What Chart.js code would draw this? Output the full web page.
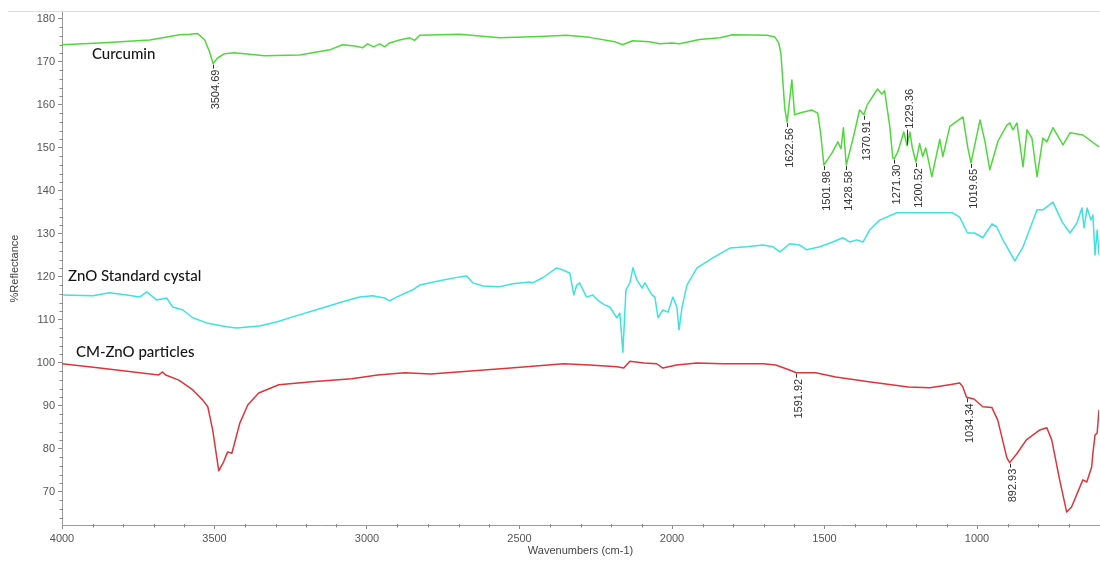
<!DOCTYPE html>
<html>
<head>
<meta charset="utf-8">
<title>FTIR spectra</title>
<script src="https://cdn.jsdelivr.net/npm/chart.js@4.4.1/dist/chart.umd.min.js"></script>
<style>
  html, body { margin: 0; padding: 0; background: #ffffff; }
  #wrap { width: 1100px; height: 563px; }
</style>
</head>
<body>
<div id="wrap"><canvas id="chart" width="1100" height="563"></canvas></div>
<script>
// Wavenumbers (cm-1) and % reflectance for each spectrum
const curcuminWn = [4000, 3876, 3712, 3614, 3581, 3555, 3532, 3516, 3504.69, 3490, 3467, 3435, 3336, 3221, 3122, 3080, 3040, 3014, 2998, 2978, 2958, 2942, 2926, 2893, 2860, 2844, 2827, 2696, 2565, 2434, 2346, 2270, 2188, 2162, 2129, 2074, 2041, 2001, 1975, 1910, 1843, 1801, 1689, 1663, 1650, 1643, 1637, 1630, 1622.56, 1607, 1598, 1581, 1542, 1522, 1512, 1501.98, 1476, 1456, 1446, 1438, 1428.58, 1407, 1385, 1370.91, 1360, 1326, 1312, 1303, 1286, 1276, 1271.30, 1260, 1240, 1229.36, 1220, 1212, 1200.52, 1188, 1178, 1168, 1148, 1122, 1112, 1089, 1046, 1030, 1019.65, 990, 974, 958, 931, 902, 892, 882, 869, 849, 836, 820, 803, 784, 771, 751, 718, 695, 653, 600];
const curcuminR = [174.0, 174.4, 175.1, 176.3, 176.4, 176.6, 175.1, 172.3, 169.6, 170.9, 171.9, 172.1, 171.4, 171.6, 172.8, 174.0, 173.7, 173.3, 174.2, 173.5, 174.2, 173.5, 174.4, 175.1, 175.6, 175.0, 176.2, 176.4, 175.6, 175.9, 176.2, 175.7, 174.7, 174.0, 174.9, 174.7, 174.2, 174.4, 174.2, 175.2, 175.6, 176.3, 176.2, 175.8, 174.4, 172.0, 166.0, 159.0, 156.0, 165.8, 157.7, 158.1, 158.8, 158.1, 153.0, 146.0, 148.8, 151.4, 149.8, 154.7, 146.0, 152.0, 158.8, 157.7, 160.0, 163.7, 162.5, 163.3, 155.0, 147.7, 147.5, 149.0, 153.7, 150.5, 153.7, 150.0, 146.7, 151.0, 148.0, 150.0, 143.3, 152.0, 148.0, 155.0, 157.2, 150.0, 146.5, 156.5, 151.5, 144.9, 151.6, 155.3, 155.8, 154.2, 155.8, 145.6, 154.2, 152.3, 143.3, 152.3, 151.4, 154.7, 150.7, 153.5, 153.0, 150.2];

const znoWn = [4000, 3899, 3844, 3788, 3745, 3722, 3689, 3657, 3637, 3604, 3571, 3526, 3460, 3428, 3352, 3297, 3244, 3155, 3080, 3024, 2982, 2942, 2926, 2903, 2850, 2827, 2762, 2696, 2673, 2653, 2620, 2565, 2522, 2467, 2457, 2424, 2378, 2358, 2335, 2322, 2312, 2303, 2280, 2260, 2244, 2221, 2204, 2181, 2171, 2161, 2151, 2138, 2128, 2115, 2098, 2089, 2066, 2056, 2046, 2030, 2013, 1997, 1984, 1977, 1967, 1951, 1918, 1866, 1810, 1755, 1702, 1669, 1646, 1614, 1581, 1558, 1515, 1473, 1440, 1417, 1394, 1374, 1352, 1319, 1263, 1211, 1155, 1080, 1057, 1031, 1008, 981, 951, 935, 915, 876, 849, 803, 784, 751, 721, 695, 672, 656, 649, 639, 626, 620, 613, 606, 600];
const znoR = [115.8, 115.6, 116.3, 115.8, 115.3, 116.5, 114.6, 115.1, 113.0, 112.3, 110.5, 109.3, 108.4, 108.1, 108.6, 109.5, 110.7, 112.6, 114.2, 115.3, 115.6, 115.1, 114.4, 115.3, 117.0, 118.1, 119.1, 120.0, 120.2, 118.6, 117.9, 117.7, 118.4, 118.8, 118.6, 119.8, 122.1, 121.6, 120.9, 115.8, 118.1, 118.6, 115.3, 115.8, 114.6, 113.5, 113.0, 110.5, 111.6, 102.5, 117.0, 118.6, 122.1, 119.3, 117.4, 118.6, 115.8, 115.3, 110.5, 112.3, 111.8, 115.3, 113.0, 107.7, 113.0, 118.1, 122.1, 124.4, 126.7, 127.0, 127.4, 127.0, 125.8, 127.7, 127.4, 126.3, 127.0, 128.1, 129.1, 128.1, 128.6, 128.1, 130.9, 133.2, 134.9, 134.9, 134.9, 134.9, 133.9, 130.2, 130.2, 129.1, 132.3, 131.6, 128.6, 123.7, 127.0, 135.6, 135.6, 137.4, 132.8, 130.2, 132.6, 136.0, 131.4, 136.0, 133.2, 134.4, 125.1, 130.9, 125.1];

const cmznoWn = [4000, 3876, 3745, 3683, 3670, 3660, 3617, 3571, 3539, 3522, 3506, 3486, 3470, 3457, 3443, 3417, 3391, 3355, 3289, 3181, 3050, 2965, 2876, 2791, 2703, 2529, 2355, 2270, 2181, 2158, 2138, 2092, 2050, 2030, 1985, 1919, 1834, 1702, 1660, 1617, 1591.92, 1529, 1463, 1355, 1225, 1155, 1090, 1057, 1047, 1034.34, 1010, 981, 951, 932, 902, 892.93, 870, 838, 794, 771, 755, 729, 706, 690, 653, 640, 624, 620, 613, 606, 600];
const cmznoR = [99.8, 98.8, 97.7, 97.2, 97.9, 97.2, 96.0, 93.7, 91.4, 89.8, 84.4, 74.9, 77.0, 79.3, 79.0, 86.0, 90.2, 93.0, 94.9, 95.6, 96.3, 97.2, 97.7, 97.4, 97.9, 98.8, 99.8, 99.5, 99.1, 98.8, 100.4, 100.0, 99.8, 98.8, 99.5, 100.0, 99.8, 99.8, 99.5, 98.4, 97.7, 97.7, 96.7, 95.6, 94.4, 94.2, 94.9, 95.3, 94.5, 92.0, 91.6, 89.8, 89.6, 86.7, 77.9, 76.8, 78.8, 82.1, 84.4, 84.9, 82.1, 72.8, 65.3, 66.5, 72.8, 72.3, 75.8, 79.0, 83.2, 83.7, 89.1];

// Annotated band positions (cm-1)
const curcuminPeaks = [3504.69, 1622.56, 1501.98, 1428.58, 1370.91, 1271.30, 1229.36, 1200.52, 1019.65];
const cmznoPeaks = [1591.92, 1034.34, 892.93];
const peaksLabelledAbove = [1229.36];

// Axis tick labels
const xTickLabels = [4000, 3500, 3000, 2500, 2000, 1500, 1000];
const yTickLabels = [70, 80, 90, 100, 110, 120, 130, 140, 150, 160, 170, 180];

// Series names, written next to each trace
const seriesNames = ['Curcumin', 'ZnO Standard cystal', 'CM-ZnO particles'];
const seriesNameAt = [[3902, 170.7], [3980, 119.1], [3954, 101.4]];

const toPoints = (wn, r) => wn.map((w, i) => ({ x: w, y: r[i] }));

const AXIS_FONT = { family: '"Liberation Sans", Arial, sans-serif', size: 11 };

const decorations = {
  id: 'decorations',
  afterDatasetsDraw(chart) {
    const { ctx, chartArea: a, scales: { x, y } } = chart;
    ctx.save();

    // thin rule along the top edge
    ctx.strokeStyle = '#dedede';
    ctx.lineWidth = 1;
    ctx.beginPath();
    ctx.moveTo(8, Math.round(a.top) - 0.5);
    ctx.lineTo(1100, Math.round(a.top) - 0.5);
    ctx.stroke();

    // minor ticks on both axes
    ctx.strokeStyle = '#8a8a8a';
    ctx.beginPath();
    for (let v = 700; v < 4000; v += 100) {
      if (v % 500 === 0) continue;
      const px = Math.round(x.getPixelForValue(v)) + 0.5;
      ctx.moveTo(px, a.bottom - 1);
      ctx.lineTo(px, a.bottom + 2.5);
    }
    for (let v = 64; v < 182; v += 2) {
      if (v % 10 === 0) continue;
      const py = Math.round(y.getPixelForValue(v)) + 0.5;
      ctx.moveTo(a.left - 2.5, py);
      ctx.lineTo(a.left + 1, py);
    }
    ctx.stroke();

    // series names
    ctx.fillStyle = '#161616';
    ctx.font = '500 15px Lato, "Open Sans", sans-serif';
    ctx.textAlign = 'left';
    ctx.textBaseline = 'alphabetic';
    seriesNames.forEach((name, i) => {
      const [wn, r] = seriesNameAt[i];
      ctx.fillText(name, x.getPixelForValue(wn), y.getPixelForValue(r));
    });

    // band labels, rotated, with a short leader to the band
    ctx.font = '11px "Liberation Sans", Arial, sans-serif';
    ctx.fillStyle = '#333333';
    ctx.strokeStyle = '#333333';
    ctx.lineWidth = 1;
    const label = (dsIndex, wn) => {
      const pt = chart.data.datasets[dsIndex].data.find(p => p.x === wn);
      const px = x.getPixelForValue(wn);
      const py = y.getPixelForValue(pt.y);
      const above = peaksLabelledAbove.includes(wn);
      const gap = above ? 16 : 5;
      const dir = above ? -1 : 1;
      ctx.beginPath();
      ctx.moveTo(Math.round(px) + 0.5, py + dir * 1);
      ctx.lineTo(Math.round(px) + 0.5, py + dir * gap);
      ctx.stroke();
      ctx.save();
      ctx.translate(px + 3, py + dir * (gap + 1));
      ctx.rotate(-Math.PI / 2);
      ctx.textAlign = above ? 'left' : 'right';
      ctx.textBaseline = 'middle';
      ctx.fillText(wn.toFixed(2), 0, 0);
      ctx.restore();
    };
    curcuminPeaks.forEach(wn => label(0, wn));
    cmznoPeaks.forEach(wn => label(2, wn));

    ctx.restore();
  }
};

new Chart(document.getElementById('chart'), {
  type: 'line',
  data: {
    datasets: [
      { label: seriesNames[0], data: toPoints(curcuminWn, curcuminR), borderColor: '#4fd83c' },
      { label: seriesNames[1], data: toPoints(znoWn, znoR), borderColor: '#3fe2e2' },
      { label: seriesNames[2], data: toPoints(cmznoWn, cmznoR), borderColor: '#dc363c' }
    ]
  },
  options: {
    responsive: false,
    devicePixelRatio: 1,
    animation: false,
    elements: {
      point: { radius: 0 },
      line: { borderWidth: 1.5, tension: 0, borderJoinStyle: 'round' }
    },
    layout: { padding: { top: 12, right: 1, left: 0, bottom: 0 } },
    plugins: {
      legend: { display: false },
      tooltip: { enabled: false }
    },
    scales: {
      x: {
        type: 'linear',
        reverse: true,
        min: 600,
        max: 4000,
        afterBuildTicks: s => { s.ticks = xTickLabels.map(v => ({ value: v })); },
        afterFit: s => { s.height = 38; },
        grid: { drawOnChartArea: false, drawTicks: true, tickLength: 4, tickColor: '#8a8a8a' },
        border: { display: true, color: '#9a9a9a' },
        ticks: { color: '#555555', font: AXIS_FONT, padding: 3, maxRotation: 0, autoSkip: false, callback: v => String(v) },
        title: { display: true, text: 'Wavenumbers (cm-1)', color: '#444444', font: AXIS_FONT, padding: { top: 0, bottom: 5 } }
      },
      y: {
        type: 'linear',
        min: 62.3,
        max: 181.6,
        afterBuildTicks: s => { s.ticks = yTickLabels.map(v => ({ value: v })); },
        afterFit: s => { s.width = 62; },
        grid: { drawOnChartArea: false, drawTicks: true, tickLength: 4, tickColor: '#8a8a8a' },
        border: { display: true, color: '#9a9a9a' },
        ticks: { color: '#555555', font: AXIS_FONT, padding: 3, autoSkip: false, callback: v => String(v) },
        title: { display: true, text: '%Reflectance', color: '#444444', font: AXIS_FONT, padding: { top: 8, bottom: 0 } }
      }
    }
  },
  plugins: [decorations]
});
</script>
</body>
</html>
